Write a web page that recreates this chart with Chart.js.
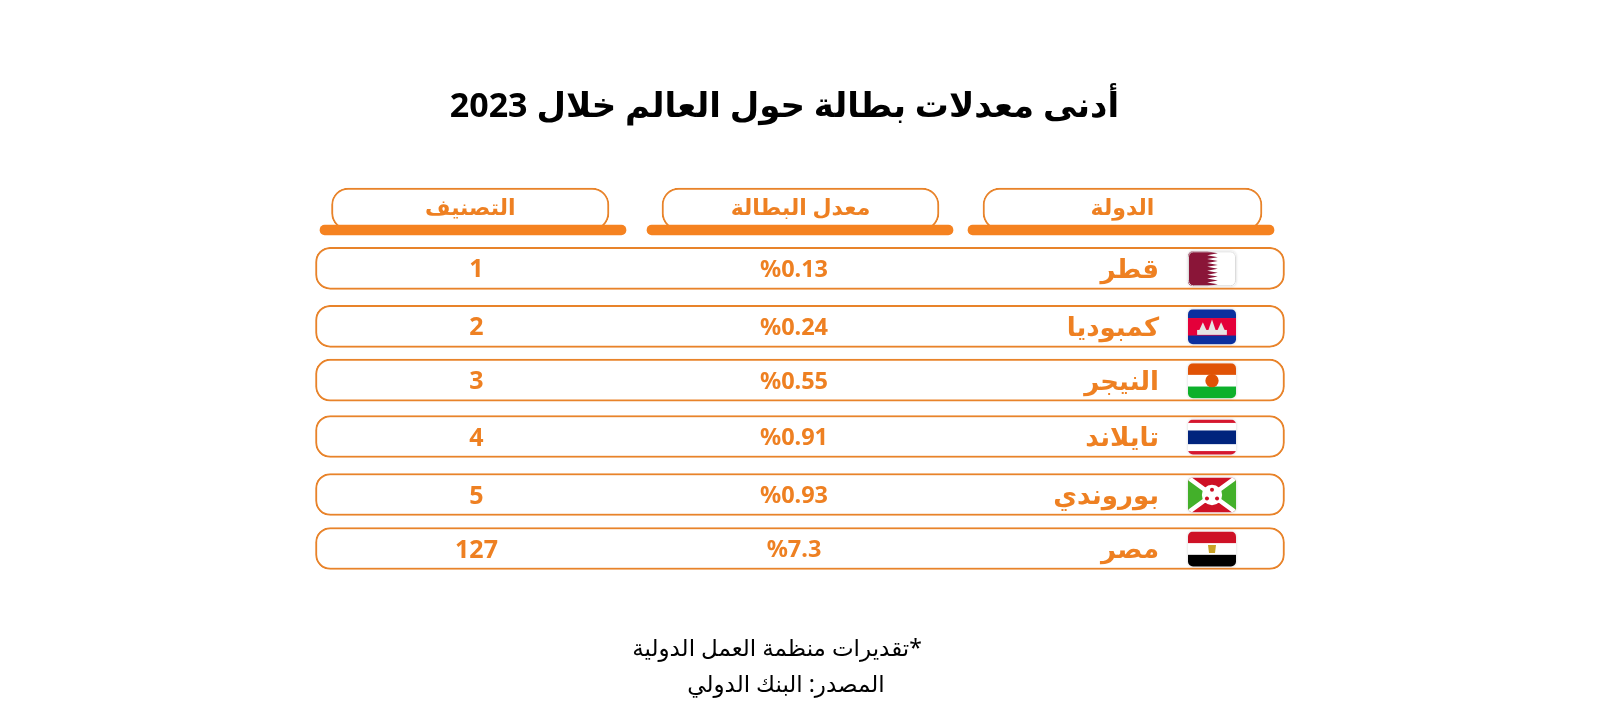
<!DOCTYPE html>
<html lang="ar">
<head>
<meta charset="utf-8">
<title>أدنى معدلات بطالة</title>
<script src="https://cdn.jsdelivr.net/npm/chart.js@4/dist/chart.umd.min.js"></script>
<style>
  html, body { margin: 0; background: #fff; }
  canvas { display: block; }
</style>
</head>
<body>
<canvas id="chart" width="1600" height="720"></canvas>
<script>
var titleText = "أدنى معدلات بطالة حول العالم خلال 2023";
var headers = ["الدولة", "معدل البطالة", "التصنيف"];
var countries = ["قطر", "كمبوديا", "النيجر", "تايلاند", "بوروندي", "مصر"];
var rates = [0.13, 0.24, 0.55, 0.91, 0.93, 7.3];
var ranks = [1, 2, 3, 4, 5, 127];
var flags = ["qatar", "cambodia", "niger", "thailand", "burundi", "egypt"];
var notes = ["*تقديرات منظمة العمل الدولية", "المصدر: البنك الدولي"];

// layout, in page pixels
var rowCenters = [268.3, 326.3, 380.2, 436.5, 494.5, 548.5];
var rowSpan = [315.5, 1284.5];
var headerPills = [[983, 1262], [662, 939], [331.5, 609]];
var headerBars = [[968, 1274], [647, 953], [320, 626]];
var colText = [1159, 794, 476.5];
var orange = "#e8832a";
var textOrange = "#ee8022";
var barOrange = "#f58220";
var fontFamily = '"Noto Sans", "DejaVu Sans", sans-serif';

function roundPath(ctx, x, y, w, h, r) {
	ctx.beginPath();
	ctx.roundRect(x, y, w, h, r);
}

function poly(ctx, pts, color) {
	ctx.fillStyle = color;
	ctx.beginPath();
	pts.forEach(function(p, i) {
		if (i == 0) ctx.moveTo(p[0], p[1]); else ctx.lineTo(p[0], p[1]);
	});
	ctx.closePath();
	ctx.fill();
}

function disc(ctx, x, y, r, color) {
	ctx.fillStyle = color;
	ctx.beginPath();
	ctx.arc(x, y, r, 0, Math.PI * 2);
	ctx.fill();
}

function stripes(ctx, x, y, w, h, parts) {
	var total = parts.reduce(function(s, p) { return s + p[0]; }, 0);
	var top = y;
	parts.forEach(function(p) {
		var ph = h * p[0] / total;
		ctx.fillStyle = p[1];
		ctx.fillRect(x, top, w, ph + 0.5);
		top += ph;
	});
}

var flagPainters = {
	qatar: function(ctx, x, y, w, h) {
		ctx.fillStyle = "#fff";
		ctx.fillRect(x, y, w, h);
		var pts = [[x, y], [x + w * 0.4, y]];
		var teeth = 9;
		for (var i = 0; i < teeth; i++) {
			pts.push([x + w * 0.62, y + h * (i + 0.5) / teeth]);
			pts.push([x + w * 0.4, y + h * (i + 1) / teeth]);
		}
		pts.push([x, y + h]);
		poly(ctx, pts, "#8a1538");
		ctx.strokeStyle = "#dcdcdc";
		ctx.lineWidth = 1;
		roundPath(ctx, x + 0.5, y + 0.5, w - 1, h - 1, 5);
		ctx.stroke();
	},
	cambodia: function(ctx, x, y, w, h) {
		stripes(ctx, x, y, w, h, [[1, "#0b2f9f"], [2, "#e4003a"], [1, "#0b2f9f"]]);
		var cx = x + w / 2, base = y + h * 0.73;
		ctx.fillStyle = "#e4e4e4";
		ctx.fillRect(x + w * 0.19, base - h * 0.14, w * 0.62, h * 0.14);
		[[-0.19, 0.3], [0, 0.38], [0.19, 0.3]].forEach(function(t) {
			poly(ctx, [[cx + w * t[0] - w * 0.08, base - h * 0.12], [cx + w * t[0], base - h * t[1] - h * 0.06], [cx + w * t[0] + w * 0.08, base - h * 0.12]], "#e4e4e4");
		});
	},
	niger: function(ctx, x, y, w, h) {
		stripes(ctx, x, y, w, h, [[1, "#e05206"], [1, "#ffffff"], [1, "#0db02b"]]);
		disc(ctx, x + w / 2, y + h / 2, h * 0.19, "#e05206");
	},
	thailand: function(ctx, x, y, w, h) {
		stripes(ctx, x, y, w, h, [[1, "#d5172f"], [2.2, "#ffffff"], [4, "#00247d"], [2, "#ffffff"], [1, "#d5172f"]]);
	},
	burundi: function(ctx, x, y, w, h) {
		ctx.fillStyle = "#ce1126";
		ctx.fillRect(x, y, w, h);
		var cx = x + w / 2, cy = y + h / 2;
		poly(ctx, [[x, y], [cx, cy], [x, y + h]], "#43b02a");
		poly(ctx, [[x + w, y], [cx, cy], [x + w, y + h]], "#43b02a");
		ctx.strokeStyle = "#fff";
		ctx.lineWidth = 4.5;
		ctx.beginPath();
		ctx.moveTo(x, y); ctx.lineTo(x + w, y + h);
		ctx.moveTo(x + w, y); ctx.lineTo(x, y + h);
		ctx.stroke();
		disc(ctx, cx, cy, h * 0.29, "#fff");
		disc(ctx, cx, cy - h * 0.15, 2, "#ce1126");
		disc(ctx, cx - w * 0.105, cy + h * 0.1, 2, "#ce1126");
		disc(ctx, cx + w * 0.105, cy + h * 0.1, 2, "#ce1126");
	},
	egypt: function(ctx, x, y, w, h) {
		stripes(ctx, x, y, w, h, [[1, "#ce1126"], [1, "#ffffff"], [1, "#000000"]]);
		var cx = x + w / 2, cy = y + h / 2;
		poly(ctx, [[cx - 4, cy - 4], [cx + 4, cy - 4], [cx + 3, cy + 4], [cx - 3, cy + 4]], "#c9a227");
	}
};

var tablePlugin = {
	id: "tablePlugin",
	afterDatasetsDraw: function(chart) {
		var ctx = chart.ctx;
		var xs = chart.scales.x, ys = chart.scales.y;

		ctx.save();
		ctx.textBaseline = "middle";

		// title
		ctx.direction = "rtl";
		ctx.textAlign = "center";
		ctx.fillStyle = "#000";
		ctx.font = "bold 34px " + fontFamily;
		ctx.fillText(titleText, xs.getPixelForValue(784.5), ys.getPixelForValue(107));

		// column heads
		ctx.fillStyle = textOrange;
		ctx.font = "bold 22px " + fontFamily;
		headers.forEach(function(h, i) {
			var span = headerPills[i];
			ctx.fillText(h, xs.getPixelForValue((span[0] + span[1]) / 2), ys.getPixelForValue(209));
		});

		// rows
		countries.forEach(function(name, i) {
			var y = ys.getPixelForValue(rowCenters[i]);
			var ty = y + 2;
			ctx.fillStyle = textOrange;
			ctx.direction = "rtl";
			ctx.font = "bold 26px " + fontFamily;
			ctx.textAlign = "start";
			ctx.fillText(name, xs.getPixelForValue(colText[0]), ty);

			ctx.direction = "ltr";
			ctx.textAlign = "center";
			ctx.font = "bold 23.5px " + fontFamily;
			ctx.fillText("%" + rates[i], xs.getPixelForValue(colText[1]), ty);
			ctx.font = "bold 25px " + fontFamily;
			ctx.fillText(String(ranks[i]), xs.getPixelForValue(colText[2]), ty);

			// flag
			var fx = xs.getPixelForValue(1188), fw = 48, fh = 35, fy = y - fh / 2 + 0.5;
			ctx.save();
			ctx.shadowColor = "rgba(0,0,0,0.18)";
			ctx.shadowBlur = 3;
			ctx.fillStyle = "#fff";
			roundPath(ctx, fx, fy, fw, fh, 5);
			ctx.fill();
			ctx.restore();
			ctx.save();
			roundPath(ctx, fx, fy, fw, fh, 5);
			ctx.clip();
			flagPainters[flags[i]](ctx, fx, fy, fw, fh);
			ctx.restore();
		});

		// footnotes
		ctx.direction = "rtl";
		ctx.textAlign = "center";
		ctx.fillStyle = "#000";
		ctx.font = "23px " + fontFamily;
		ctx.fillText(notes[0], xs.getPixelForValue(777), ys.getPixelForValue(649));
		ctx.fillText(notes[1], xs.getPixelForValue(786), ys.getPixelForValue(685));
		ctx.restore();
	}
};

var rowData = countries.map(function(c, i) {
	return { x: rowSpan, y: rowCenters[i] };
});
var headerPillData = headerPills.map(function(span) {
	return { x: span, y: 209 };
});
var headerBarData = headerBars.map(function(span) {
	return { x: span, y: 230 };
});

var ctx = document.getElementById("chart").getContext("2d");
var chart = new Chart(ctx, {
	type: "bar",
	data: {
		datasets: [{
			label: "headerBars",
			data: headerBarData,
			backgroundColor: barOrange,
			borderWidth: 0,
			borderRadius: 5,
			borderSkipped: false,
			barThickness: 10
		}, {
			label: "headerPills",
			data: headerPillData,
			backgroundColor: "#fff",
			borderColor: orange,
			borderWidth: 2,
			borderRadius: 17,
			borderSkipped: false,
			barThickness: 42
		}, {
			label: "rows",
			data: rowData,
			backgroundColor: "#fff",
			borderColor: orange,
			borderWidth: 2,
			borderRadius: 15,
			borderSkipped: false,
			barThickness: 42
		}]
	},
	options: {
		indexAxis: "y",
		responsive: false,
		animation: false,
		grouped: false,
		layout: { padding: 0 },
		scales: {
			x: { type: "linear", min: 0, max: 1600, display: false },
			y: { type: "linear", min: 0, max: 720, reverse: true, offset: false, display: false }
		},
		plugins: {
			legend: { display: false },
			tooltip: { enabled: false }
		}
	},
	plugins: [tablePlugin]
});
</script>
</body>
</html>
